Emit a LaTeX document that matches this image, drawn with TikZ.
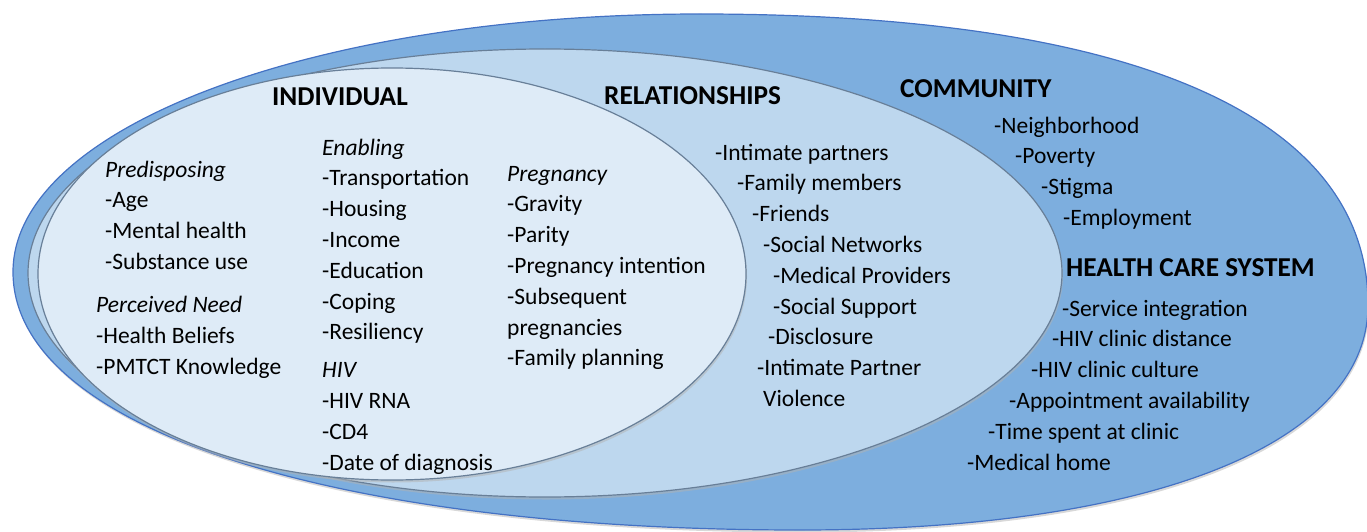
\documentclass[tikz,border=0pt]{standalone}
\usepackage{fontspec}
\setmainfont{Carlito}
\usetikzlibrary{shadows}
\definecolor{seOuter}{HTML}{7DAEDE}
\definecolor{seEdge}{HTML}{4472C4}
\definecolor{seRel}{HTML}{BDD7EE}
\definecolor{seInd}{HTML}{DEEBF7}
\definecolor{seRim}{HTML}{687F98}
\tikzset{
  layer/.style={line width=1.2pt, drop shadow={shadow xshift=1pt, shadow yshift=-2.5pt, fill=black!30}},
  outerlayer/.style={layer, fill=seOuter, draw=seEdge},
  rellayer/.style={layer, fill=seRel, draw=seRim},
  indlayer/.style={layer, fill=seInd, draw=seRim},
  item/.style={anchor=base west, inner sep=0pt, font=\fontsize{23.5}{28}\selectfont},
  facet/.style={item, font=\fontsize{23.5}{28}\selectfont\itshape},
  level/.style={anchor=base west, inner sep=0pt, font=\fontsize{27.3}{32}\selectfont\bfseries}
}
\begin{document}
\begin{tikzpicture}[x=1pt, y=-1pt]
  \useasboundingbox (0,0) rectangle (1367,532);
  % nested levels
  \path[outerlayer] (13,272) .. controls (13,127) and (315,14) .. (700,14)
    .. controls (1134,14) and (1368,116) .. (1368,305)
    .. controls (1368,444) and (1152,530) .. (800,530)
    .. controls (328,530) and (13,427) .. (13,272) -- cycle;
  \path[rellayer] (545,273) ellipse [x radius=517pt, y radius=224pt];
  \path[indlayer] (392,274) ellipse [x radius=354pt, y radius=206pt];

  % headings
  \node[level] (ind) at (272,106) {INDIVIDUAL};
  \node[level] (rel) at (604,105) {RELATIONSHIPS};
  \node[level] (com) at (900,98) {COMMUNITY};
  \node[level] (hcs) at (1066,276) {HEALTH CARE SYSTEM};

  % individual factors
  \node[facet] (pre0) at (105,177) {Predisposing};
  \foreach \txt [count=\i] in {-Age, -Mental health, -Substance use}
    \node[item] (pre\i) at (105,177+30.8*\i) {\txt};
  \node[facet] (need0) at (96,312) {Perceived Need};
  \foreach \txt [count=\i] in {-Health Beliefs, -PMTCT Knowledge}
    \node[item] (need\i) at (96,312+31*\i) {\txt};
  \node[facet] (enab0) at (322,155) {Enabling};
  \foreach \txt [count=\i] in {-Transportation, -Housing, -Income, -Education, -Coping, -Resiliency}
    \node[item] (enab\i) at (322,155+30.8*\i) {\txt};
  \node[facet] (hiv0) at (322,377) {HIV};
  \foreach \txt [count=\i] in {-HIV RNA, -CD4, -Date of diagnosis}
    \node[item] (hiv\i) at (322,377+31*\i) {\txt};
  \node[facet] (preg0) at (507,181) {Pregnancy};
  \foreach \txt [count=\i] in {-Gravity, -Parity, -Pregnancy intention, -Subsequent, pregnancies, -Family planning}
    \node[item] (preg\i) at (507,181+30.8*\i) {\txt};

  % relationships
  \foreach \x/\txt [count=\i] in {715/-Intimate partners, 737/-Family members, 752/-Friends,
      763/-Social Networks, 773/-Medical Providers, 773/-Social Support, 768/-Disclosure,
      757/-Intimate Partner, 763/Violence}
    \node[item] (rel\i) at (\x,129.2+30.8*\i) {\txt};

  % community
  \foreach \x/\txt [count=\i] in {994/-Neighborhood, 1015/-Poverty, 1041/-Stigma, 1063/-Employment}
    \node[item] (com\i) at (\x,102.3+30.7*\i) {\txt};

  % health care system
  \foreach \x/\txt [count=\i] in {1062/-Service integration, 1052/-HIV clinic distance,
      1031/-HIV clinic culture, 1009/-Appointment availability, 988/-Time spent at clinic,
      967/-Medical home}
    \node[item] (hcs\i) at (\x,285.2+30.8*\i) {\txt};
\end{tikzpicture}
\end{document}
